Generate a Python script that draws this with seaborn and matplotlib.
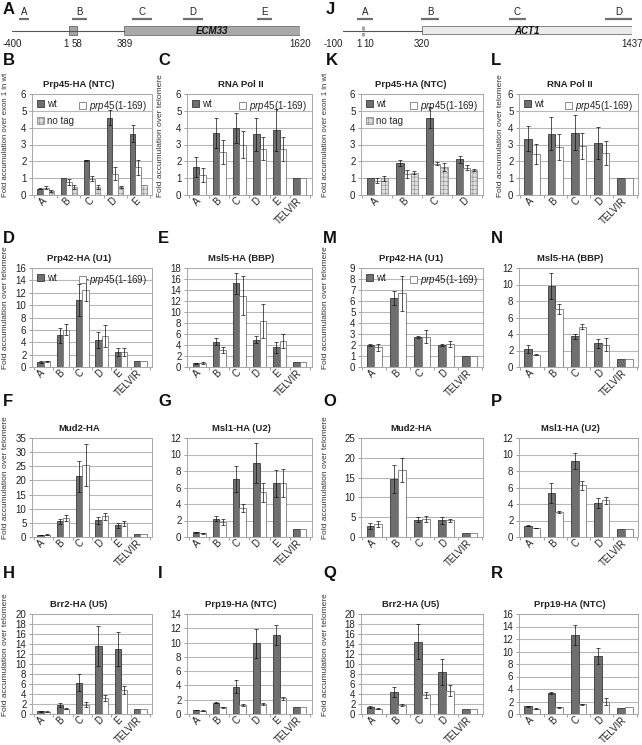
import numpy as np
import pandas as pd
import matplotlib
matplotlib.use("Agg")
import matplotlib.pyplot as plt
from matplotlib.patches import Patch, Rectangle
import seaborn as sns

# --- gene diagrams (bp positions) ---
ecm_exon1 = (1, 58)
ecm_orf = (389, 1620)
ecm_primers = [(-351, -281), (21, 126), (442, 582), (800, 940), (1319, 1425)]
act_exon1 = (1, 10)
act_orf = (320, 1437)
act_primers = [(-26, 59), (315, 411), (783, 873), (1294, 1437)]
primer_names = ["A", "B", "C", "D", "E"]

ecm_sites = ["A", "B", "C", "D", "E", "TELVIR"]
act_sites = ["A", "B", "C", "D", "TELVIR"]

# --- ECM33 ---
B_wt = [0.37, 1.0, 2.05, 4.6, 3.65]
B_wt_err = [0.03, 0.0, 0.05, 0.45, 0.5]
B_mut = [0.43, 0.78, 0.97, 1.27, 1.65]
B_mut_err = [0.1, 0.2, 0.15, 0.38, 0.45]
B_notag = [0.24, 0.48, 0.48, 0.5, 0.58]
B_notag_err = [0.05, 0.12, 0.1, 0.06, 0.0]

C_wt = [1.65, 3.7, 4.0, 3.6, 3.85, 1.0]
C_wt_err = [0.6, 0.9, 0.9, 1.0, 1.25, 0]
C_mut = [1.2, 2.55, 3.0, 2.75, 2.75, 1.0]
C_mut_err = [0.42, 0.72, 0.82, 0.7, 0.72, 0]

D_wt = [0.8, 5.1, 10.8, 4.4, 2.4, 1.0]
D_wt_err = [0.15, 1.2, 2.6, 1.3, 0.7, 0]
D_mut = [0.9, 6.0, 12.4, 5.0, 2.4, 1.0]
D_mut_err = [0.15, 0.9, 1.8, 1.8, 0.6, 0]

E_wt = [0.7, 4.6, 15.2, 5.0, 3.6, 1.0]
E_wt_err = [0.1, 0.6, 1.9, 0.6, 1.0, 0]
E_mut = [0.7, 3.1, 13.0, 8.3, 4.7, 1.0]
E_mut_err = [0.15, 0.6, 3.5, 3.1, 1.3, 0]

F_wt = [0.7, 5.6, 21.5, 5.9, 4.1, 1.0]
F_wt_err = [0.1, 0.9, 5.5, 1.3, 1.0, 0]
F_mut = [0.8, 6.7, 25.5, 7.3, 4.8, 1.0]
F_mut_err = [0.1, 1.2, 7.5, 1.2, 0.9, 0]

G_wt = [0.55, 2.2, 7.0, 9.0, 6.5, 1.0]
G_wt_err = [0.05, 0.3, 1.6, 2.4, 1.6, 0]
G_mut = [0.45, 1.8, 3.5, 5.4, 6.5, 1.0]
G_mut_err = [0.05, 0.4, 0.5, 1.2, 1.7, 0]

H_wt = [0.6, 1.9, 6.3, 13.6, 13.0, 1.0]
H_wt_err = [0.1, 0.4, 1.7, 4.0, 3.4, 0]
H_mut = [0.5, 1.1, 1.9, 3.2, 4.9, 1.0]
H_mut_err = [0.05, 0.15, 0.5, 0.6, 0.8, 0]

I_wt = [0.55, 1.6, 3.8, 9.9, 11.0, 1.0]
I_wt_err = [0.05, 0.1, 0.9, 2.0, 1.4, 0]
I_mut = [0.45, 0.95, 1.25, 1.4, 2.2, 1.0]
I_mut_err = [0.05, 0.05, 0.15, 0.15, 0.25, 0]

# --- ACT1 ---
K_wt = [1.0, 1.9, 4.6, 2.13]
K_wt_err = [0.0, 0.15, 0.6, 0.2]
K_mut = [0.85, 1.25, 1.86, 1.63]
K_mut_err = [0.15, 0.25, 0.1, 0.15]
K_notag = [1.0, 1.33, 1.65, 1.48]
K_notag_err = [0.15, 0.1, 0.25, 0.08]

L_wt = [3.35, 3.65, 3.7, 3.1, 1.0]
L_wt_err = [0.75, 1.0, 1.05, 0.95, 0]
L_mut = [2.45, 2.85, 2.9, 2.5, 1.0]
L_mut_err = [0.6, 0.8, 0.78, 0.72, 0]

M_wt = [2.0, 6.3, 2.75, 2.0, 1.0]
M_wt_err = [0.05, 0.65, 0.1, 0.1, 0]
M_mut = [1.8, 6.7, 2.75, 2.1, 1.0]
M_mut_err = [0.3, 1.6, 0.6, 0.25, 0]

N_wt = [2.15, 9.8, 3.7, 2.85, 1.0]
N_wt_err = [0.5, 1.6, 0.35, 0.55, 0]
N_mut = [1.5, 7.0, 4.9, 2.7, 1.0]
N_mut_err = [0.1, 0.6, 0.35, 0.8, 0]

O_wt = [2.8, 14.7, 4.4, 4.2, 1.0]
O_wt_err = [0.8, 3.5, 0.6, 0.9, 0]
O_mut = [3.3, 16.9, 4.5, 4.2, 1.0]
O_mut_err = [0.7, 3.0, 0.7, 0.4, 0]

P_wt = [1.35, 5.3, 9.2, 4.1, 1.0]
P_wt_err = [0.05, 1.2, 1.0, 0.6, 0]
P_mut = [1.1, 3.0, 6.25, 4.45, 1.0]
P_mut_err = [0.05, 0.15, 0.5, 0.45, 0]

Q_wt = [1.4, 4.4, 14.5, 8.4, 1.0]
Q_wt_err = [0.15, 1.0, 3.5, 2.6, 0]
Q_mut = [1.1, 1.8, 3.9, 4.7, 1.0]
Q_mut_err = [0.1, 0.25, 0.6, 1.1, 0]

R_wt = [1.25, 3.4, 12.7, 9.3, 1.0]
R_wt_err = [0.1, 0.15, 1.6, 1.3, 0]
R_mut = [0.85, 1.1, 1.55, 2.0, 1.05]
R_mut_err = [0.1, 0.1, 0.1, 0.5, 0]

sns.set_theme(style="white")
plt.rcParams["font.family"] = ["Liberation Sans", "DejaVu Sans"]
plt.rcParams["mathtext.fontset"] = "custom"
plt.rcParams["mathtext.it"] = "Liberation Sans:italic"
plt.rcParams["mathtext.rm"] = "Liberation Sans"
plt.rcParams["hatch.linewidth"] = 0.4

W, H = 642, 745
fig = plt.figure(figsize=(W / 100, H / 100), dpi=100)


def box(x0, y0, x1, y1):
    return [x0 / W, 1 - y1 / H, (x1 - x0) / W, (y1 - y0) / H]


colors = {"wt": "#6f6f6f", "mut": "#ffffff", "notag": "#dedede"}
edges = {"wt": "#3a3a3a", "mut": "#7a7a7a", "notag": "#8c8c8c"}
labels = {"wt": "wt", "mut": r"$\mathit{prp45}$(1-169)", "notag": "no tag"}
grey_txt = "#222222"


def handle(k):
    return Patch(facecolor=colors[k], edgecolor=edges[k], lw=0.6,
                 hatch="++++" if k == "notag" else None)


def bar_panel(rect, title, sites, series, top, step, legend=False, title_x=None):
    ax = fig.add_axes(box(*rect))
    keys = [k for k, _, _ in series]
    df = pd.concat([pd.DataFrame({"site": sites, "strain": k, "value": v})
                    for k, v, _ in series])
    sns.barplot(data=df, x="site", y="value", hue="strain", order=sites,
                hue_order=keys, palette=colors, saturation=1,
                width=0.72 if len(keys) == 3 else 0.66,
                errorbar=None, legend=False, ax=ax)
    for cont, (k, v, e) in zip(ax.containers, series):
        xs, ys, es = [], [], []
        for bar, err in zip(cont, e):
            bar.set_edgecolor(edges[k])
            bar.set_linewidth(0.6)
            if k == "notag":
                bar.set_hatch("++++")
            if err > 0:
                xs.append(bar.get_x() + bar.get_width() / 2)
                ys.append(bar.get_height())
                es.append(err)
        ax.errorbar(xs, ys, yerr=es, fmt="none", ecolor="#111111",
                    elinewidth=0.5, capsize=1.5, capthick=0.5, zorder=5)

    ax.set_ylim(0, top)
    ax.set_yticks(np.arange(0, top + step / 2, step))
    ax.set_xticks(np.arange(-0.5, len(sites), 1), minor=True)
    ax.set_xlabel("")
    ax.set_ylabel("")
    ax.yaxis.grid(True, color="#b8b8b8", lw=0.8)
    ax.set_axisbelow(True)
    for s in ax.spines.values():
        s.set_color("#a8a8a8")
        s.set_linewidth(0.7)
    ax.tick_params(axis="y", length=2, width=0.6, color="#909090", pad=2,
                   labelsize=7, labelcolor=grey_txt, left=True)
    ax.tick_params(axis="x", which="major", length=0, pad=3, labelsize=7,
                   labelcolor=grey_txt)
    ax.tick_params(axis="x", which="minor", length=2, width=0.6,
                   color="#909090", bottom=True)
    for t in ax.get_xticklabels():
        t.set_rotation(45)
        t.set_ha("right")
        t.set_va("center")
        t.set_rotation_mode("anchor")
    tx = 0.5 if title_x is None else (title_x - rect[0]) / (rect[2] - rect[0])
    ax.set_title(title, fontsize=6.8, fontweight="bold", pad=5, color=grey_txt,
                 x=tx)

    if legend:
        kw = dict(frameon=False, fontsize=7, handlelength=0.7, handleheight=0.7,
                  handletextpad=0.3, borderpad=0.2, borderaxespad=0.3,
                  labelspacing=0.75)
        left_keys = [k for k in keys if k != "mut"]
        lg = ax.legend([handle(k) for k in left_keys],
                       [labels[k] for k in left_keys], loc="upper left", **kw)
        ax.add_artist(lg)
        ax.legend([handle("mut")], [labels["mut"]], loc="upper right", **kw)
    return ax


# --- gene diagrams ---
def gene(rect, xlim, exon1, orf, primers, name, orf_color, coords, dashed):
    ax = fig.add_axes(box(*rect))
    ax.set_xlim(*xlim)
    ax.set_ylim(55, 0)
    ax.axis("off")
    ax.plot([xlim[0], orf[0]], [31, 31], color="#555555", lw=0.8)
    if dashed:
        ax.plot([(exon1[0] + exon1[1]) / 2] * 2, [26, 36], color="#a0a0a0",
                lw=2, ls=(0, (1.5, 0.8)))
    else:
        ax.add_patch(Rectangle((exon1[0], 26), exon1[1] - exon1[0], 9,
                               fc="#a6a6a6", ec="#666666", lw=0.6))
    ax.add_patch(Rectangle((orf[0], 26), orf[1] - orf[0], 9 if not dashed else 8,
                           fc=orf_color, ec="#707070", lw=0.6))
    ax.text((orf[0] + orf[1]) / 2, 30.5, name, style="italic", weight="bold",
            fontsize=7, ha="center", va="center", color="#111111")
    for nm, (s, e) in zip(primer_names, primers):
        ax.plot([s, e], [19, 19], color="#707070", lw=1.6, solid_capstyle="butt")
        ax.text((s + e) / 2, 12, nm, ha="center", va="center", fontsize=7,
                color=grey_txt)
    for txt, x, ha in coords:
        ax.text(x, 44, txt, ha=ha, va="center", fontsize=7, color=grey_txt)


gene((12, 0, 300, 55), (-400, 1620), ecm_exon1, ecm_orf, ecm_primers, "ECM33",
     "#a9a9a9",
     [("-400", -400, "center"), ("1", 1, "right"), ("58", 58, "center"),
      ("389", 389, "center"), ("1620", 1620, "center")], False)
gene((343, 0, 632, 55), (-100, 1437), act_exon1, act_orf, act_primers, "ACT1",
     "#ebebeb",
     [("-100", -100, "right"), ("1", 1, "right"), ("10", 10, "left"),
      ("320", 320, "center"), ("1437", 1437, "center")], True)

ecm5 = ecm_sites[:5]
act4 = act_sites[:4]
colA, colB, colC, colD = (32, 152), (187, 312), (361, 483), (519, 638)
title_cx = {colA: 79, colB: 241, colC: 411, colD: 570}
rows = [(94, 195), (268, 367), (438, 537), (614, 714)]


def panel(col, row, title, sites, series, top, step, legend=False):
    rect = (col[0], rows[row][0], col[1], rows[row][1])
    return bar_panel(rect, title, sites, series, top, step, legend,
                     title_x=title_cx[col])


panel(colA, 0, "Prp45-HA (NTC)", ecm5,
      [("wt", B_wt, B_wt_err), ("mut", B_mut, B_mut_err),
       ("notag", B_notag, B_notag_err)], 6, 1, legend=True)
panel(colB, 0, "RNA Pol II", ecm_sites,
      [("wt", C_wt, C_wt_err), ("mut", C_mut, C_mut_err)], 6, 1, legend=True)
panel(colA, 1, "Prp42-HA (U1)", ecm_sites,
      [("wt", D_wt, D_wt_err), ("mut", D_mut, D_mut_err)], 16, 2, legend=True)
panel(colB, 1, "Msl5-HA (BBP)", ecm_sites,
      [("wt", E_wt, E_wt_err), ("mut", E_mut, E_mut_err)], 18, 2)
panel(colA, 2, "Mud2-HA", ecm_sites,
      [("wt", F_wt, F_wt_err), ("mut", F_mut, F_mut_err)], 35, 5)
panel(colB, 2, "Msl1-HA (U2)", ecm_sites,
      [("wt", G_wt, G_wt_err), ("mut", G_mut, G_mut_err)], 12, 2)
panel(colA, 3, "Brr2-HA (U5)", ecm_sites,
      [("wt", H_wt, H_wt_err), ("mut", H_mut, H_mut_err)], 20, 2)
panel(colB, 3, "Prp19-HA (NTC)", ecm_sites,
      [("wt", I_wt, I_wt_err), ("mut", I_mut, I_mut_err)], 14, 2)

panel(colC, 0, "Prp45-HA (NTC)", act4,
      [("wt", K_wt, K_wt_err), ("mut", K_mut, K_mut_err),
       ("notag", K_notag, K_notag_err)], 6, 1, legend=True)
panel(colD, 0, "RNA Pol II", act_sites,
      [("wt", L_wt, L_wt_err), ("mut", L_mut, L_mut_err)], 6, 1, legend=True)
panel(colC, 1, "Prp42-HA (U1)", act_sites,
      [("wt", M_wt, M_wt_err), ("mut", M_mut, M_mut_err)], 9, 1, legend=True)
panel(colD, 1, "Msl5-HA (BBP)", act_sites,
      [("wt", N_wt, N_wt_err), ("mut", N_mut, N_mut_err)], 12, 2)
panel(colC, 2, "Mud2-HA", act_sites,
      [("wt", O_wt, O_wt_err), ("mut", O_mut, O_mut_err)], 25, 5)
panel(colD, 2, "Msl1-HA (U2)", act_sites,
      [("wt", P_wt, P_wt_err), ("mut", P_mut, P_mut_err)], 12, 2)
panel(colC, 3, "Brr2-HA (U5)", act_sites,
      [("wt", Q_wt, Q_wt_err), ("mut", Q_mut, Q_mut_err)], 20, 2)
panel(colD, 3, "Prp19-HA (NTC)", act_sites,
      [("wt", R_wt, R_wt_err), ("mut", R_mut, R_mut_err)], 16, 2)

# panel letters
letters = [("A", 3, 2), ("J", 326, 2),
           ("B", 3, 53), ("C", 158, 53), ("K", 326, 53), ("L", 491, 53),
           ("D", 3, 231), ("E", 158, 231), ("M", 323, 231), ("N", 491, 231),
           ("F", 3, 394), ("G", 158, 394), ("O", 323, 394), ("P", 491, 394),
           ("H", 3, 566), ("I", 158, 566), ("Q", 323, 566), ("R", 491, 566)]
for t, x, y in letters:
    fig.text(x / W, 1 - y / H, t, fontsize=12, fontweight="bold", ha="left",
             va="top", color="#111111")

# y axis labels
tel = "Fold accumulation over telomere"
exon = "Fold accumulation over exon 1 in wt"
ylabels = [(exon, 6, 0), (tel, 161, 0), (exon, 326, 0), (tel, 500, 0),
           (tel, 6, 1), (tel, 326, 1), (tel, 6, 2), (tel, 326, 2),
           (tel, 6, 3), (tel, 326, 3)]
for txt, x, r in ylabels:
    fig.text(x / W, 1 - (rows[r][1] + 2) / H, txt, rotation=90,
             fontsize=5.6 if txt == exon else 6,
             ha="center", va="bottom", color="#333333")

fig.savefig("out.png", dpi=100)
